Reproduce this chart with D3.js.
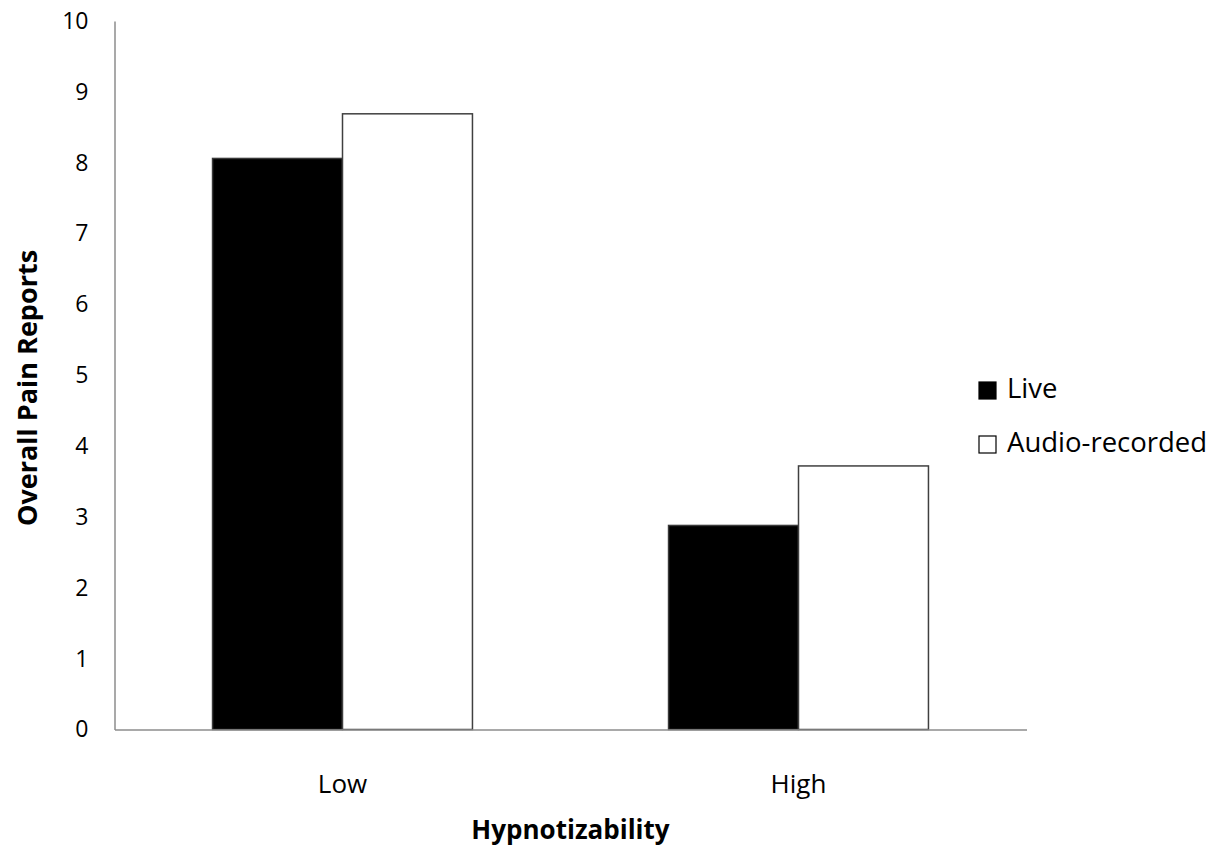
<!DOCTYPE html>
<html lang="en">
	<head>
		<meta charset="utf-8">
		<title>Overall Pain Reports by Hypnotizability</title>
		<script type="text/javascript" src="https://cdn.jsdelivr.net/npm/d3@7"></script>
		<style type="text/css">
			body { margin: 0; background: #fff; }
			text { font-family: "Open Sans", sans-serif; fill: #000; }
		</style>
	</head>
	<body>
		<script type="text/javascript">

			//Data
			var categories = ["Low", "High"];
			var seriesNames = ["Live", "Audio-recorded"];
			var liveValues = [8.06, 2.88];
			var audioValues = [8.69, 3.72];
			var yTicks = [0, 1, 2, 3, 4, 5, 6, 7, 8, 9, 10];

			var w = 1224;
			var h = 850;

			//Plot area (note: "top" is a reserved window property)
			var plotLeft = 114.5, plotRight = 1026.5, plotTop = 21, plotBottom = 729.5;

			var dataset = [];
			categories.forEach(function(c, i) {
				dataset.push({ cat: c, series: seriesNames[0], value: liveValues[i] });
				dataset.push({ cat: c, series: seriesNames[1], value: audioValues[i] });
			});

			var xScale = d3.scaleBand()
							.domain(categories)
							.range([plotLeft, plotRight])
							.paddingInner(0.43)
							.paddingOuter(0.215);

			var xInner = d3.scaleBand()
							.domain(seriesNames)
							.range([0, xScale.bandwidth()]);

			var yScale = d3.scaleLinear()
							.domain([0, 10])
							.range([plotBottom, plotTop]);

			var fillColor = d3.scaleOrdinal()
							.domain(seriesNames)
							.range(["#000000", "#ffffff"]);

			var strokeColor = d3.scaleOrdinal()
							.domain(seriesNames)
							.range(["#3a3a3a", "#404040"]);

			//Create SVG element
			var svg = d3.select("body")
						.append("svg")
						.attr("width", w)
						.attr("height", h);

			//Create bars
			svg.selectAll("rect.bar")
			   .data(dataset)
			   .enter()
			   .append("rect")
			   .attr("class", "bar")
			   .attr("x", function(d) {
			   		return xScale(d.cat) + xInner(d.series);
			   })
			   .attr("y", function(d) {
			   		return yScale(d.value);
			   })
			   .attr("width", xInner.bandwidth())
			   .attr("height", function(d) {
			   		return plotBottom - yScale(d.value);
			   })
			   .attr("fill", function(d) { return fillColor(d.series); })
			   .attr("stroke", function(d) { return strokeColor(d.series); })
			   .attr("stroke-width", 1.5);

			//Y axis
			var yAxis = svg.append("g")
				.attr("transform", "translate(" + plotLeft + ",0)")
				.call(d3.axisLeft(yScale)
					.tickValues(yTicks)
					.tickFormat(d3.format("d"))
					.tickSize(0)
					.tickPadding(26));

			yAxis.select(".domain").attr("stroke", "#8c8c8c").attr("stroke-width", 1.5);
			yAxis.selectAll("text")
				.attr("font-size", "23px")
				.attr("font-family", "'Open Sans', sans-serif")
				.attr("fill", "#000");

			//X axis
			var xAxis = svg.append("g")
				.attr("transform", "translate(0," + plotBottom + ")")
				.call(d3.axisBottom(xScale)
					.tickSize(0)
					.tickPadding(45));

			xAxis.select(".domain").attr("stroke", "#8c8c8c").attr("stroke-width", 1.5);
			xAxis.selectAll("text")
				.attr("font-size", "26px")
				.attr("font-family", "'Open Sans', sans-serif")
				.attr("fill", "#000");

			//Axis titles
			svg.append("text")
				.attr("x", (plotLeft + plotRight) / 2)
				.attr("y", 839)
				.attr("text-anchor", "middle")
				.attr("font-size", "26px")
				.attr("font-weight", "bold")
				.text("Hypnotizability");

			svg.append("text")
				.attr("transform", "translate(37,388) rotate(-90)")
				.attr("text-anchor", "middle")
				.attr("font-size", "27px")
				.attr("font-weight", "bold")
				.text("Overall Pain Reports");

			//Legend
			var legend = svg.selectAll("g.legend")
				.data(seriesNames)
				.enter()
				.append("g")
				.attr("class", "legend")
				.attr("transform", function(d, i) {
					return "translate(979," + (382 + i * 54) + ")";
				});

			legend.append("rect")
				.attr("width", 17)
				.attr("height", 17)
				.attr("fill", function(d) { return fillColor(d); })
				.attr("stroke", "#000")
				.attr("stroke-width", 1.2);

			legend.append("text")
				.attr("x", 28)
				.attr("y", 16)
				.attr("font-size", "27.5px")
				.text(function(d) { return d; });

		</script>
	</body>
</html>
